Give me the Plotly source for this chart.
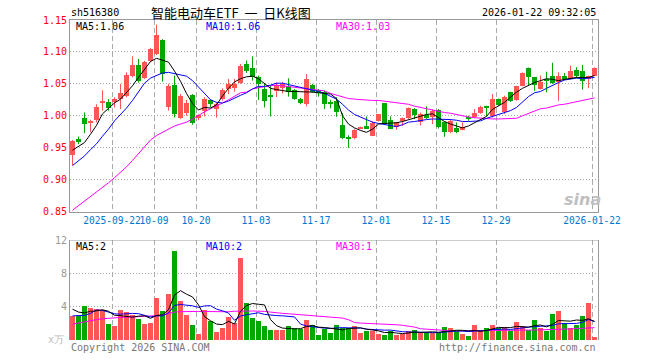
import plotly.graph_objects as go
import pandas as pd

# ---------------- data ----------------
HOLIDAYS = ["2025-10-01", "2025-10-02", "2025-10-03", "2025-10-06", "2025-10-07",
            "2025-10-08", "2026-01-01", "2026-01-02"]
DATES = [d.strftime("%Y-%m-%d") for d in
         pd.bdate_range("2025-09-11", "2026-01-22", freq="C", holidays=HOLIDAYS)]

OPEN = [0.938, 0.963, 0.997, 0.988, 0.9937, 1.020, 1.021, 1.022, 1.026, 1.0314,
        1.063, 1.0797, 1.0587, 1.0865, 1.097, 1.118, 1.013, 1.048, 0.997, 1.005,
        1.0325, 0.9958, 1.008, 1.0246, 1.0105, 1.027, 1.042, 1.043, 1.0508, 1.081,
        1.0744, 1.0613, 1.042, 1.0314, 1.038, 1.044, 1.046, 1.040, 1.027, 1.0183,
        1.048, 1.040, 1.0367, 1.0215, 1.0236, 0.9853, 0.9645, 0.9649, 0.979, 0.9843,
        0.9686, 0.992, 1.0199, 0.9932, 0.9817, 0.9932, 0.9958, 1.0105, 0.9906, 1.001,
        0.9974, 1.009, 0.9895, 0.9748, 0.9806, 0.978, 0.9984, 0.9974, 1.0042, 1.0147,
        1.000, 1.026, 1.0052, 1.0367, 1.025, 1.047, 1.0744, 1.060, 1.042, 1.0577,
        1.062, 1.0524, 1.062, 1.0577, 1.0718, 1.0697, 1.0577, 1.063]
HIGH = [0.962, 0.9675, 1.005, 0.994, 1.018, 1.040, 1.026, 1.029, 1.050, 1.068,
        1.093, 1.089, 1.086, 1.1064, 1.1426, 1.120, 1.050, 1.063, 1.034, 1.025,
        1.034, 1.002, 1.029, 1.026, 1.021, 1.043, 1.0577, 1.0577, 1.081, 1.0865,
        1.093, 1.063, 1.050, 1.047, 1.052, 1.053, 1.0587, 1.042, 1.028, 1.0655,
        1.050, 1.042, 1.0393, 1.025, 1.029, 1.0042, 0.9695, 0.9795, 0.983, 0.999,
        0.9916, 1.000, 1.0199, 0.999, 0.990, 0.9974, 1.013, 1.012, 1.005, 1.0147,
        1.010, 1.0105, 0.991, 0.995, 0.9895, 0.9895, 1.000, 1.0105, 1.0157, 1.0157,
        1.034, 1.027, 1.0314, 1.0377, 1.047, 1.068, 1.0755, 1.061, 1.063, 1.069,
        1.083, 1.068, 1.067, 1.0786, 1.076, 1.0797, 1.063, 1.076]
LOW = [0.922, 0.9555, 0.9727, 0.974, 0.9895, 1.008, 1.008, 1.013, 1.0105, 1.029,
       1.060, 1.052, 1.0577, 1.084, 1.095, 1.0535, 1.008, 0.9974, 0.995, 1.000,
       0.986, 0.993, 0.999, 1.013, 0.997, 1.0236, 1.034, 1.0377, 1.050, 1.067,
       1.055, 1.0246, 1.013, 0.999, 1.029, 1.035, 1.030, 1.025, 1.018, 1.015,
       1.036, 1.030, 1.0105, 1.0115, 0.9984, 0.9633, 0.9497, 0.9633, 0.979, 0.9806,
       0.968, 0.991, 0.988, 0.9789, 0.978, 0.984, 0.995, 0.9948, 0.985, 0.995,
       0.987, 0.980, 0.967, 0.9727, 0.9727, 0.977, 0.992, 0.996, 1.003, 0.999,
       0.997, 1.0157, 1.0026, 1.022, 1.0236, 1.046, 1.048, 1.039, 1.041, 1.0367,
       1.050, 1.0236, 1.056, 1.057, 1.0587, 1.041, 1.043, 1.062]
CLOSE = [0.960, 0.959, 0.987, 0.992, 1.013, 1.0236, 1.012, 1.026, 1.035, 1.0645,
         1.080, 1.055, 1.0839, 1.105, 1.1258, 1.0655, 1.047, 1.0026, 1.031, 1.020,
         0.9885, 1.001, 1.026, 1.018, 1.0183, 1.041, 1.0498, 1.0498, 1.0786, 1.0697,
         1.0613, 1.0498, 1.0236, 1.030, 1.048, 1.049, 1.0367, 1.026, 1.020, 1.0577,
         1.0367, 1.037, 1.018, 1.0195, 1.0063, 0.9649, 0.9640, 0.978, 0.9827, 0.980,
         0.9885, 1.0026, 0.9869, 0.980, 0.9895, 0.9963, 1.0115, 1.001, 1.0026, 0.9958,
         1.0079, 0.9817, 0.9748, 0.992, 0.9748, 0.983, 0.9963, 1.0042, 1.013, 1.0136,
         1.026, 1.0168, 1.0288, 1.0236, 1.046, 1.067, 1.060, 1.048, 1.0535, 1.055,
         1.051, 1.062, 1.0577, 1.0697, 1.063, 1.055, 1.062, 1.075]

MA5 = [0.946, 0.952, 0.958, 0.971, 0.985, 1.003, 1.012, 1.020, 1.026, 1.036,
       1.047, 1.060, 1.073, 1.085, 1.090, 1.087, 1.084, 1.070, 1.054, 1.035,
       1.019, 1.009, 1.013, 1.012, 1.017, 1.031, 1.043, 1.053, 1.058, 1.061,
       1.062, 1.058, 1.050, 1.043, 1.041, 1.039, 1.038, 1.038, 1.038, 1.038,
       1.037, 1.036, 1.035, 1.034, 1.027, 1.000, 0.987, 0.981, 0.977, 0.974,
       0.979, 0.987, 0.988, 0.988, 0.989, 0.991, 0.994, 0.997, 0.999, 1.002,
       1.003, 0.997, 0.991, 0.987, 0.984, 0.981, 0.984, 0.989, 0.994, 0.999,
       1.010, 1.016, 1.021, 1.029, 1.037, 1.043, 1.048, 1.052, 1.055, 1.058,
       1.057, 1.055, 1.057, 1.059, 1.060, 1.060, 1.060, 1.063]
MA10 = [0.922, 0.930, 0.937, 0.947, 0.956, 0.968, 0.979, 0.992, 1.002, 1.012,
        1.024, 1.038, 1.051, 1.059, 1.063, 1.067, 1.068, 1.066, 1.065, 1.062,
        1.055, 1.045, 1.034, 1.025, 1.021, 1.020, 1.023, 1.028, 1.032, 1.036,
        1.042, 1.046, 1.046, 1.048, 1.051, 1.051, 1.049, 1.046, 1.044, 1.043,
        1.041, 1.038, 1.035, 1.031, 1.026, 1.018, 1.009, 1.002, 0.998, 0.993,
        0.990, 0.988, 0.986, 0.984, 0.983, 0.986, 0.990, 0.991, 0.993, 0.994,
        0.995, 0.995, 0.994, 0.994, 0.993, 0.991, 0.991, 0.991, 0.992, 0.996,
        0.999, 1.001, 1.004, 1.008, 1.013, 1.021, 1.030, 1.036, 1.038, 1.043,
        1.048, 1.052, 1.056, 1.058, 1.059, 1.058, 1.059, 1.060]
MA30 = [0.852, 0.859, 0.866, 0.873, 0.880, 0.887, 0.895, 0.903, 0.911, 0.920,
        0.930, 0.941, 0.952, 0.962, 0.969, 0.974, 0.979, 0.984, 0.987, 0.990,
        0.995, 1.001, 1.006, 1.011, 1.015, 1.020, 1.025, 1.031, 1.036, 1.037,
        1.042, 1.044, 1.046, 1.047, 1.048, 1.047, 1.046, 1.045, 1.044, 1.043,
        1.042, 1.041, 1.039, 1.035, 1.032, 1.029, 1.027, 1.026, 1.025, 1.025,
        1.024, 1.024, 1.023, 1.022, 1.021, 1.020, 1.018, 1.015, 1.013, 1.011,
        1.008, 1.006, 1.005, 1.004, 1.002, 0.999, 0.998, 0.997, 0.996, 0.996,
        0.995, 0.995, 0.995, 0.995, 0.996, 1.000, 1.004, 1.008, 1.011, 1.012,
        1.015, 1.017, 1.018, 1.020, 1.023, 1.025, 1.026, 1.028]

VOLUME = [2.9, 2.83, 4.1, 3.9, 3.75, 3.55, 1.95, 1.7, 3.63, 3.4,
          3.03, 2.55, 1.95, 2.07, 5.1, 3.5, 5.54, 10.7, 4.74, 3.03,
          1.83, 0.76, 3.63, 2.31, 1.0, 1.5, 2.75, 2.1, 9.9, 4.47,
          2.7, 2.3, 1.7, 1.15, 1.15, 1.15, 1.7, 1.5, 1.3, 2.43,
          1.83, 0.64, 1.3, 0.9, 1.83, 1.43, 1.43, 1.7, 0.9, 1.04,
          1.1, 0.76, 0.64, 1.04, 0.64, 0.76, 1.1, 1.24, 0.84, 0.9,
          0.84, 0.84, 1.6, 1.48, 1.1, 0.76, 0.52, 1.83, 1.04, 1.48,
          1.83, 1.43, 1.6, 1.1, 2.2, 1.63, 1.24, 2.43, 1.5, 1.1,
          3.15, 3.5, 2.03, 1.5, 1.83, 2.9, 4.47, 0.4]
VMA5 = [3.7, 3.35, 3.25, 3.45, 3.5, 3.63, 3.45, 2.97, 2.92, 2.85,
        2.74, 2.86, 2.91, 2.6, 2.94, 3.03, 3.63, 5.38, 5.92, 5.5,
        5.17, 4.21, 2.8, 2.31, 1.91, 1.84, 2.24, 1.93, 3.45, 4.14,
        4.38, 4.29, 4.21, 2.46, 1.72, 1.43, 1.37, 1.33, 1.36, 1.62,
        1.75, 1.54, 1.5, 1.42, 1.3, 1.22, 1.38, 1.46, 1.46, 1.3,
        1.23, 1.1, 0.89, 0.92, 0.84, 0.77, 0.84, 0.96, 0.92, 0.97,
        0.98, 0.93, 1.0, 1.13, 1.17, 1.16, 1.09, 1.14, 1.05, 1.13,
        1.34, 1.52, 1.48, 1.49, 1.63, 1.59, 1.55, 1.72, 1.8, 1.58,
        1.88, 2.34, 2.26, 2.26, 2.4, 2.35, 2.55, 2.22]
VMA10 = [2.9, 2.9, 2.95, 3.2, 3.6, 3.55, 3.35, 3.15, 3.1, 3.17,
         3.19, 3.16, 2.94, 2.76, 2.9, 2.89, 3.25, 4.15, 4.26, 4.22,
         4.1, 3.92, 4.09, 4.12, 3.71, 3.5, 3.23, 2.37, 2.88, 3.03,
         3.11, 3.27, 3.07, 2.96, 2.93, 2.9, 2.83, 2.77, 1.91, 1.67,
         1.59, 1.46, 1.42, 1.39, 1.46, 1.49, 1.46, 1.48, 1.44, 1.3,
         1.23, 1.24, 1.18, 1.19, 1.07, 1.0, 0.97, 0.93, 0.92, 0.91,
         0.88, 0.89, 0.98, 1.03, 1.07, 1.07, 1.01, 1.07, 1.09, 1.15,
         1.25, 1.31, 1.31, 1.27, 1.38, 1.47, 1.54, 1.6, 1.65, 1.61,
         1.74, 1.95, 1.99, 2.03, 1.99, 2.12, 2.45, 2.24]
VMA30 = [1.9, 2.05, 2.2, 2.35, 2.45, 2.55, 2.63, 2.68, 2.71, 2.73,
         2.75, 2.78, 2.8, 2.85, 2.92, 3.0, 3.2, 3.35, 3.4, 3.43,
         3.43, 3.43, 3.42, 3.4, 3.39, 3.39, 3.39, 3.45, 3.5, 3.47,
         3.48, 3.47, 3.43, 3.35, 3.25, 3.2, 3.15, 3.1, 3.05, 2.98,
         2.95, 2.9, 2.85, 2.78, 2.7, 2.63, 2.43, 2.1, 2.03, 2.01,
         1.97, 1.94, 1.9, 1.87, 1.83, 1.77, 1.7, 1.55, 1.35, 1.3,
         1.22, 1.16, 1.12, 1.11, 1.1, 1.1, 1.1, 1.1, 1.11, 1.12,
         1.14, 1.15, 1.16, 1.16, 1.17, 1.18, 1.19, 1.2, 1.21, 1.22,
         1.25, 1.28, 1.3, 1.33, 1.37, 1.42, 1.46, 1.48]

TICK_DATES = ["2025-09-22", "2025-10-09", "2025-10-20", "2025-11-03", "2025-11-17",
              "2025-12-01", "2025-12-15", "2025-12-29", "2026-01-22"]
TICK_TEXT = ["2025-09-22", "10-09", "10-20", "11-03", "11-17",
             "12-01", "12-15", "12-29", "2026-01-22"]
PRICE_TICKS = [0.85, 0.90, 0.95, 1.00, 1.05, 1.10, 1.15]
VOL_TICKS = [4, 8, 12]

# ---------------- styling ----------------
RED = "#ff5555"
GREEN = "#00a800"
MONO = "DejaVu Sans Mono"
N = len(DATES)
X = list(range(N))
BODY_W = 5 / 6
XR = [-2.5 / 6, N - 2.5 / 6]
tick_pos = [DATES.index(d) - 2.5 / 6 for d in TICK_DATES]

fig = go.Figure()

# wicks
for col, up in ((RED, True), (GREEN, False)):
    wx, wy = [], []
    for i in X:
        if (CLOSE[i] >= OPEN[i]) == up:
            wx += [i, i, None]
            wy += [LOW[i], HIGH[i], None]
    fig.add_trace(go.Scatter(x=wx, y=wy, mode="lines", line=dict(color=col, width=1),
                             hoverinfo="skip", showlegend=False, xaxis="x", yaxis="y"))

# bodies
for col, up in ((RED, True), (GREEN, False)):
    bx, bb, bh = [], [], []
    for i in X:
        if (CLOSE[i] >= OPEN[i]) == up:
            lo = min(OPEN[i], CLOSE[i])
            bx.append(i)
            bb.append(lo)
            bh.append(max(abs(CLOSE[i] - OPEN[i]), 0.0017))
    fig.add_trace(go.Bar(x=bx, y=bh, base=bb, width=BODY_W, marker=dict(color=col, line=dict(width=0)),
                         showlegend=False, xaxis="x", yaxis="y"))

# price MAs
for arr, col in ((MA30, "#ff00ff"), (MA10, "#0000ff"), (MA5, "#000000")):
    fig.add_trace(go.Scatter(x=X, y=arr, mode="lines", line=dict(color=col, width=1),
                             showlegend=False, xaxis="x", yaxis="y"))

# volume bars
vcol = [RED if CLOSE[i] >= OPEN[i] else GREEN for i in X]
fig.add_trace(go.Bar(x=X, y=VOLUME, width=BODY_W, marker=dict(color=vcol, line=dict(width=0)),
                     showlegend=False, xaxis="x2", yaxis="y2"))
for arr, col in ((VMA30, "#ff00ff"), (VMA10, "#0000ff"), (VMA5, "#000000")):
    fig.add_trace(go.Scatter(x=X, y=arr, mode="lines", line=dict(color=col, width=1),
                             showlegend=False, xaxis="x2", yaxis="y2"))

GRID = "#aaaaaa"
AX = "#999999"
fig.update_layout(
    width=660, height=360,
    margin=dict(l=70, r=62, t=20, b=20),
    paper_bgcolor="white", plot_bgcolor="white",
    barmode="overlay", bargap=0,
    font=dict(family=MONO, size=10),
    xaxis=dict(domain=[0, 1], range=XR, anchor="y", tickmode="array", tickvals=tick_pos,
               ticktext=TICK_TEXT, tickangle=0, automargin=False,
               tickfont=dict(family=MONO, size=9.6, color="#0077cc"),
               showgrid=True, gridcolor=GRID, griddash="5px,3px", gridwidth=1,
               showline=True, linecolor=AX, linewidth=1, mirror=True, ticks="", zeroline=False),
    yaxis=dict(domain=[(340 - 211.5) / 320, 1], range=[0.85, 1.15], tickmode="array",
               tickvals=PRICE_TICKS, ticktext=["%.2f" % v for v in PRICE_TICKS],
               tickfont=dict(family=MONO, size=10, color="#ff0000"), automargin=False,
               showgrid=True, gridcolor=GRID, griddash="1px,2px", gridwidth=1,
               showline=True, linecolor=AX, linewidth=1, mirror=True, ticks="", zeroline=False),
    xaxis2=dict(domain=[0, 1], range=XR, anchor="y2", matches="x", tickmode="array",
                tickvals=tick_pos, showticklabels=False, showgrid=True, gridcolor=GRID,
                griddash="5px,3px", showline=False, ticks="", zeroline=False),
    yaxis2=dict(domain=[0, 100 / 320], range=[0, 12], tickmode="array", tickvals=VOL_TICKS,
                ticktext=[str(v) for v in VOL_TICKS], automargin=False,
                tickfont=dict(family=MONO, size=10, color="#999999"),
                showgrid=True, gridcolor=GRID, griddash="1px,2px",
                showline=True, linecolor=AX, linewidth=1, mirror=True, ticks="", zeroline=False),
    shapes=[dict(type="line", xref="paper", yref="y2", x0=0, x1=1, y0=12, y1=12,
                 line=dict(color=AX, width=1))],
)

def ann(text, px, py, color="#000000", anchor="left", size=10, family=MONO, **kw):
    fig.add_annotation(text=text, xref="paper", yref="paper",
                       x=(px - 70) / 528, y=(340 - py) / 320, xanchor=anchor, yanchor="middle",
                       showarrow=False, font=dict(family=family, size=size, color=color), **kw)

NB = "\u00a0"
ann("sh516380", 69, 13)
ann("智能电动车ETF" + NB * 2 + "一" + NB * 2 + "日K线图", 149, 13, size=13, family="Noto Sans CJK SC")
ann("2026-01-22 09:32:05", 598, 13, anchor="right")
ann("MA5:1.06", 74, 26)
ann("MA10:1.06", 204, 26, color="#0000ff")
ann("MA30:1.03", 334, 26, color="#ff00ff")
ann("MA5:2", 74, 246)
ann("MA10:2", 204, 246, color="#0000ff")
ann("MA30:1", 334, 246, color="#ff00ff")
ann("x万", 66, 339, color="#bbbbbb", anchor="right")
ann("Copyright 2026 SINA.COM", 69, 347, color="#777777")
ann("http://finance.sina.com.cn", 598, 347, color="#777777", anchor="right")
ann("<b><i>sina</i></b>", 582, 199, color="#c0c0c0", anchor="center", size=16, family="DejaVu Sans")

fig.write_html("out.html")
